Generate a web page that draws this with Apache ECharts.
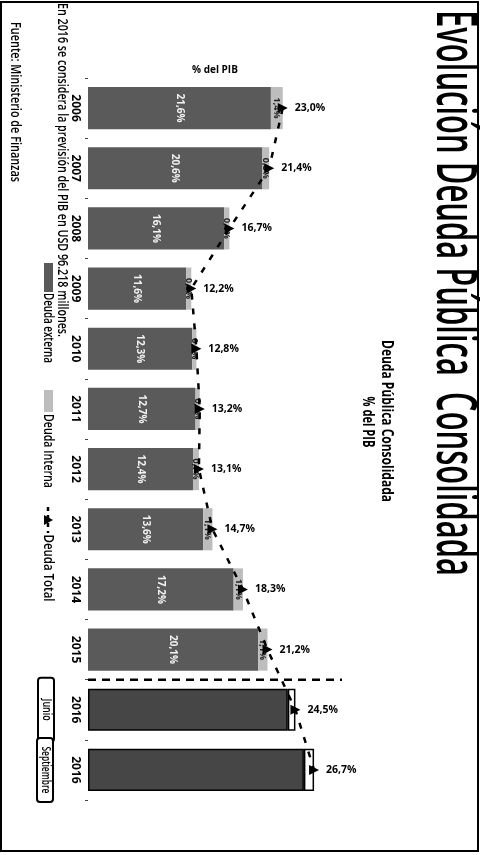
<!DOCTYPE html>
<html>
<head>
<meta charset="utf-8">
<script src="https://cdn.jsdelivr.net/npm/echarts@6/dist/echarts.min.js"></script>
<style>
  html, body { margin: 0; padding: 0; background: #fff; }
  #chart { width: 486px; height: 855px; }
</style>
</head>
<body>
<div id="chart"></div>
<script>
// Años (2016 aparece dos veces: junio y septiembre)
const categories = ['2006', '2007', '2008', '2009', '2010', '2011', '2012', '2013', '2014', '2015', '2016', '2016'];
// Deuda como % del PIB
const deudaExterna = [21.6, 20.6, 16.1, 11.6, 12.3, 12.7, 12.4, 13.6, 17.2, 20.1, 23.6, 25.5];
const deudaInterna = [1.4, 0.8, 0.6, 0.6, 0.5, 0.5, 0.7, 1.1, 1.1, 1.1, 0.9, 1.2];
const deudaTotal = [23.0, 21.4, 16.7, 12.2, 12.8, 13.2, 13.1, 14.7, 18.3, 21.2, 24.5, 26.7];
const periodos2016 = ['Junio', 'Septiembre'];
const valorMax = 30;

const FONT = '"Open Sans", "Liberation Sans", sans-serif';
const firstPartial = categories.length - periodos2016.length; // first 2016 bar

const fmt = v => v.toFixed(1).replace('.', ',') + '%';

const measureCtx = document.createElement('canvas').getContext('2d');
// Text read top-to-bottom, stretched to a given length along the reading direction
function vText(id, text, cx, cy, size, weight, length, stretch, fill) {
  measureCtx.font = weight + ' ' + size + 'px ' + FONT;
  const w = measureCtx.measureText(text).width;
  return {
    id, type: 'text', x: cx, y: cy, rotation: -Math.PI / 2,
    scaleX: length ? length / w : 1, scaleY: stretch || 1, z: 20,
    style: {
      text, fontSize: size, fontWeight: weight, fontFamily: FONT,
      fill: fill || '#000', align: 'center', verticalAlign: 'middle'
    }
  };
}

const chart = echarts.init(document.getElementById('chart'), null, { renderer: 'canvas' });

const externaData = deudaExterna.map((v, i) => i >= firstPartial ? {
  value: v,
  itemStyle: { color: '#464646', borderColor: '#000', borderWidth: 1.5 },
  label: { show: false }
} : v);
const internaData = deudaInterna.map((v, i) => i >= firstPartial ? {
  value: v,
  itemStyle: { color: '#fff', borderColor: '#000', borderWidth: 1.5 },
  label: { show: false }
} : v);

chart.setOption({
  animation: false,
  backgroundColor: '#fff',
  grid: { left: 88, right: 144, top: 78, bottom: 55, containLabel: false },
  xAxis: {
    type: 'value', min: 0, max: valorMax, position: 'top',
    name: '% del PIB', nameLocation: 'middle', nameGap: 3,
    nameTextStyle: { fontSize: 10, fontWeight: 'bold', fontFamily: FONT, color: '#000' },
    axisLine: { show: false }, axisTick: { show: false },
    axisLabel: { show: false }, splitLine: { show: false }
  },
  yAxis: {
    type: 'category', data: categories, inverse: true,
    axisLine: { show: false },
    axisTick: { show: true, length: 3, lineStyle: { color: '#444', width: 1 } },
    axisLabel: {
      rotate: -90, margin: 7, fontSize: 12, fontWeight: 'bold',
      fontFamily: FONT, color: '#000'
    }
  },
  series: [
    {
      name: 'Deuda externa', type: 'bar', stack: 'deuda', barWidth: '70%',
      data: externaData,
      itemStyle: { color: '#5a5a5a' },
      label: {
        show: true, position: 'inside', rotate: -90,
        formatter: p => fmt(p.value), color: '#f2f2f2',
        fontSize: 10, fontWeight: 'bold', fontFamily: FONT
      }
    },
    {
      name: 'Deuda Interna', type: 'bar', stack: 'deuda', barWidth: '70%',
      data: internaData,
      itemStyle: { color: '#bdbdbd' },
      label: {
        show: true, position: 'inside', rotate: -90,
        formatter: p => fmt(p.value), color: '#222',
        fontSize: 9, fontWeight: 'bold', fontFamily: FONT
      }
    },
    {
      name: 'Deuda Total', type: 'line', data: deudaTotal, z: 5,
      symbol: 'triangle', symbolSize: 10, symbolRotate: -90,
      itemStyle: { color: '#000' },
      lineStyle: { color: '#000', width: 2.5, type: [6, 9] },
      label: {
        show: true, position: 'right', distance: 7,
        formatter: p => fmt(p.value), color: '#000',
        fontSize: 10.5, fontWeight: 'bold', fontFamily: FONT
      }
    }
  ]
});

// Positions taken from the chart's own axes
const yOf = i => chart.convertToPixel({ yAxisIndex: 0 }, i);
const xOf = v => chart.convertToPixel({ xAxisIndex: 0 }, v);
const sepY = (yOf(firstPartial - 1) + yOf(firstPartial)) / 2;

const graphic = [
  // frame
  { id: 'frame', type: 'rect', shape: { x: 1, y: 2, width: 477, height: 849 },
    style: { fill: 'none', stroke: '#000', lineWidth: 2 }, z: 1 },
  // titles
  vText('title', 'Evolución Deuda Pública  Consolidada', 453, 293, 30, 600, 566, 1.85),
  vText('sub1', 'Deuda Pública Consolidada', 386, 421, 11, 'bold', 162, 1.4),
  vText('sub2', '% del PIB', 367, 422, 11, 'bold', 51, 1.4),
  // notes
  vText('note1', 'En 2016 se considera la previsión del PIB en USD 96.218 millones.', 62, 170, 10, 600, 334, 1.4),
  vText('note2', 'Fuente: Ministerio de Finanzas', 15, 102, 10, 600, 160, 1.4),
  // separator between annual and 2016 figures
  { id: 'sep', type: 'line', z: 10,
    shape: { x1: xOf(0), y1: sepY, x2: xOf(valorMax), y2: sepY },
    style: { stroke: '#000', lineWidth: 2.5, lineDash: [8, 6] } },
  // legend
  { id: 'lg1', type: 'rect', shape: { x: 44, y: 263, width: 9, height: 29 }, style: { fill: '#5a5a5a' } },
  vText('lgt1', 'Deuda externa', 48, 328, 10, 600, 70, 1.4),
  { id: 'lg2', type: 'rect', shape: { x: 44, y: 390, width: 9, height: 22 }, style: { fill: '#bdbdbd' } },
  vText('lgt2', 'Deuda Interna', 48, 451, 10, 600, 74, 1.4),
  { id: 'lg3', type: 'line', shape: { x1: 48, y1: 507, x2: 48, y2: 533 },
    style: { stroke: '#000', lineWidth: 2.5, lineDash: [4, 4] } },
  { id: 'lg3m', type: 'polygon', shape: { points: [[44, 515], [44, 525], [53, 520]] }, style: { fill: '#000' } },
  vText('lgt3', 'Deuda Total', 48, 568, 10, 600, 67, 1.4)
];

// Junio / Septiembre tags beside the 2016 bars
periodos2016.forEach((p, k) => {
  const cy = yOf(firstPartial + k);
  graphic.push({ id: 'box' + k, type: 'rect', z: 15,
    shape: { x: 38 - k, y: cy - 32, width: 16, height: 64, r: 3 },
    style: { fill: '#fff', stroke: '#000', lineWidth: 2 } });
  graphic.push(vText('boxt' + k, p, 46 - k, cy, 9, 600, p.length > 6 ? 47 : 22, 1.3));
});

chart.setOption({ graphic });
</script>
</body>
</html>
